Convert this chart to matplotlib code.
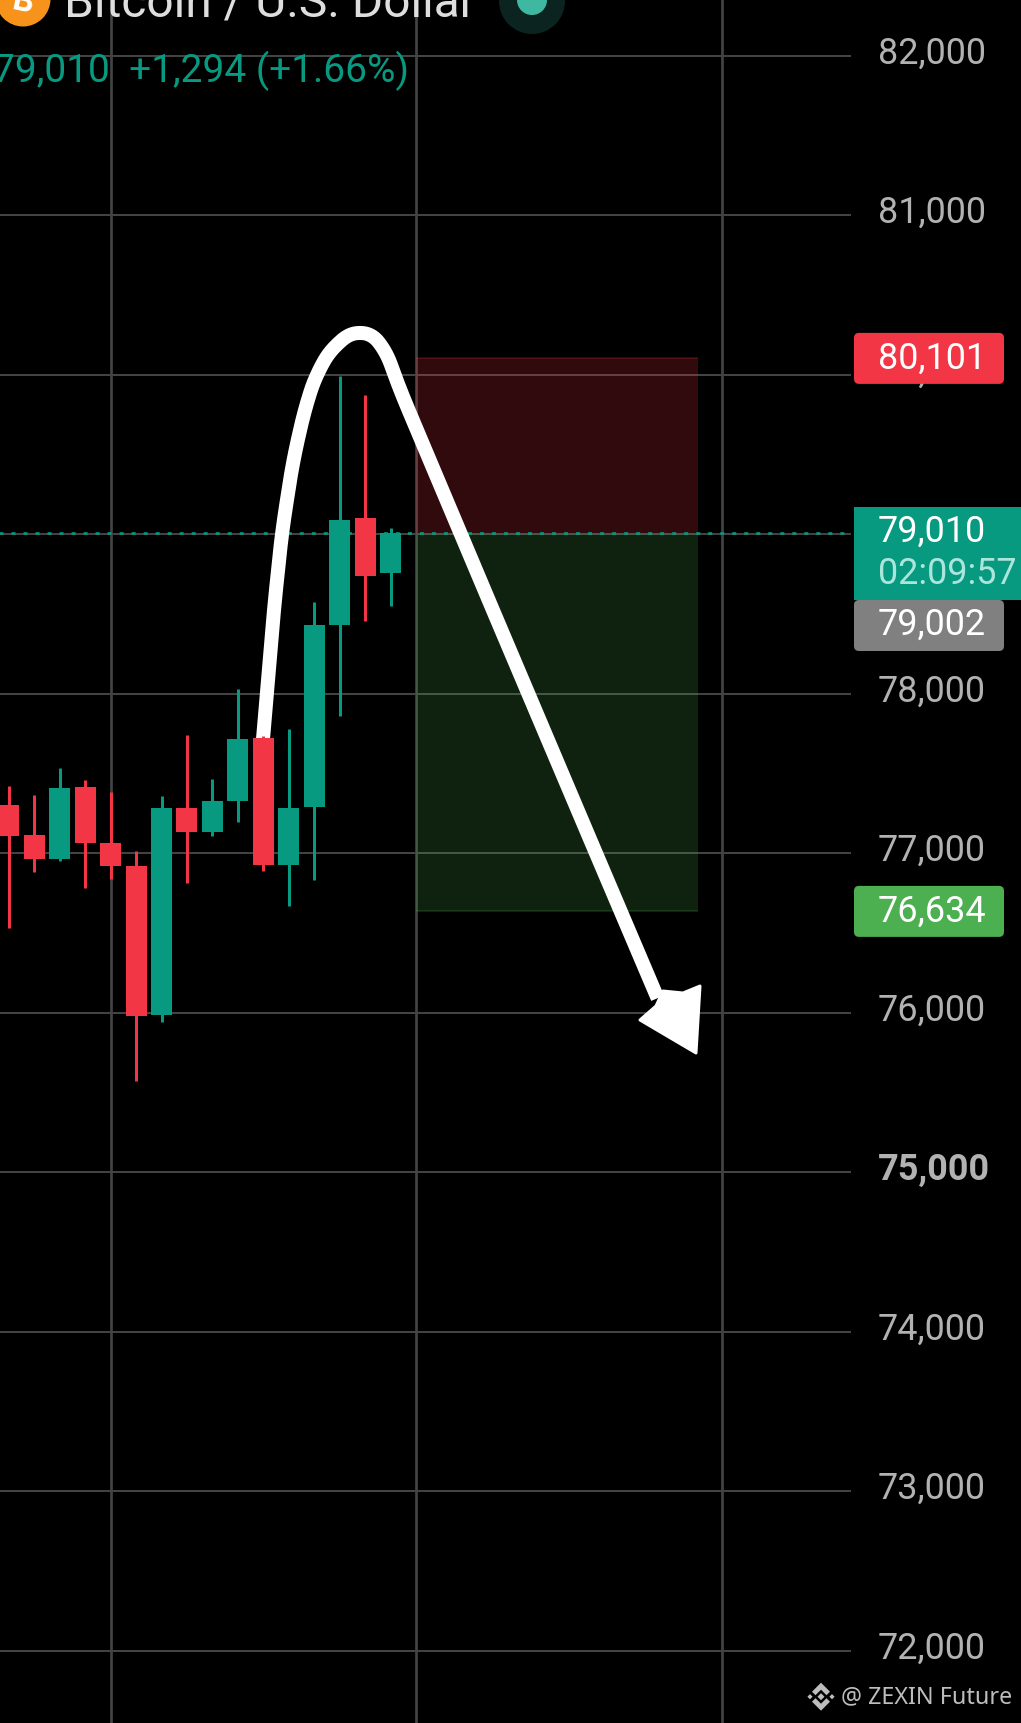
import numpy as np
import matplotlib
matplotlib.use("Agg")
import matplotlib.pyplot as plt
from matplotlib.patches import Rectangle, FancyBboxPatch, Circle, Polygon
from matplotlib.transforms import Affine2D

W, H = 1021, 1724
UP, DOWN = "#089981", "#F23645"

# ---- data (price) ----
candle_high  = [77423,77367,77534,77461,77386,77016,77360,77743,77467,78029,77732,77781,78577,79994,79875,79041]
candle_low   = [76528,76880,76949,76779,76838,75569,75939,76811,77105,77193,76886,76666,76834,77862,78458,78547]
candle_top   = [77304,77116,77411,77417,77066,76922,77285,77285,77329,77718,77724,77285,78433,79091,79102,79010]
candle_bot   = [77105,76961,76961,77061,76917,75977,75983,77131,77131,77325,76928,76928,77287,78428,78735,78754]
candle_dir   = ["d","d","u","d","d","d","u","d","u","u","d","u","u","u","d","u"]
price_ticks  = [82000,81000,80000,79000,78000,77000,76000,75000,74000,73000,72000]
vgrid_bars   = [4,16,28]
stop_price, entry_price, target_price = 80101, 79010, 76634
last_price, mark_price = 79010, 79002
pos_start, pos_end = 16, 27.05

fig = plt.figure(figsize=(W/100, H/100), dpi=100, facecolor="black")
ax = fig.add_axes([0,0,1,1], facecolor="black")
ax.set_xlim((0-8.7)/25.47, (W-8.7)/25.47)
Y0 = 56.6
ax.set_ylim(82000-(H-Y0)*6.2696, 82000+Y0*6.2696)
ax.axis("off")
px = Affine2D().scale(1,-1).translate(0,H)   # screen pixels, origin at top-left

def x_of(p): return (p-8.7)/25.47
GRID = "#434343"
PT = 0.72
FONT = "Roboto"

# grid
ax.hlines(price_ticks, x_of(-5), x_of(851), color=GRID, lw=2*PT, zorder=1)
ax.vlines(vgrid_bars, *ax.get_ylim(), color=GRID, lw=2.7*PT, zorder=1)
ax.hlines([entry_price], x_of(-5), x_of(851), color=UP, lw=2.6*PT, linestyles=(0,(1.54,3.08)), zorder=2)

# position box
ax.add_patch(Rectangle((pos_start, entry_price), pos_end-pos_start, stop_price-entry_price,
                       fc="#F23645", alpha=0.2, ec="none", zorder=1.5))
ax.add_patch(Rectangle((pos_start, target_price), pos_end-pos_start, entry_price-target_price,
                       fc="#4CAF50", alpha=0.2, ec="none", zorder=1.5))
ax.hlines([stop_price], pos_start, pos_end, color=DOWN, alpha=0.25, lw=1.5*PT, zorder=1.6)
ax.hlines([target_price], pos_start, pos_end, color="#4CAF50", alpha=0.25, lw=1.5*PT, zorder=1.6)

# candles
idx = np.arange(len(candle_high))
cols = [UP if d == "u" else DOWN for d in candle_dir]
ax.vlines(idx, candle_low, candle_high, colors=cols, lw=3*PT, zorder=3)

# arrow (hand-drawn annotation, screen pixels): polyline resampled and smoothed
pts = np.array([(263,740),(274,610),(282,533),(293,462),(306,405),(319,368),(337,342),
                (362,327),(383,343),(398,386),(470,557),(564,779),(658,1000)],float)
seg = np.r_[0,np.cumsum(np.hypot(*np.diff(pts,axis=0).T))]
s = np.arange(0,seg[-1],2.0)
cx_ = np.interp(s,seg,pts[:,0]); cy_ = np.interp(s,seg,pts[:,1])
win = 25
kern = np.ones(win)/win
def smooth(v):
    p = np.r_[2*v[0]-v[win:0:-1], v, 2*v[-1]-v[-2:-win-2:-1]]
    return np.convolve(p,kern,mode="same")[win:-win]
ax.plot(smooth(cx_),smooth(cy_),color="white",lw=14*PT,solid_capstyle="butt",solid_joinstyle="round",transform=px,zorder=2.5)
ax.add_patch(Polygon([(640,1021),(656,1007),(663,992),(683,994),(700,987),(696,1054)],closed=True,
                     fc="white",ec="white",lw=3*PT,joinstyle="round",transform=px,zorder=2.5))

ax.bar(idx, np.array(candle_top)-np.array(candle_bot), bottom=candle_bot, width=21/25.47, color=cols, zorder=3.5)

# axis labels
LBL = "#b2b2b2"
FS = 25.9
def price_y(v): return 56+(82000-v)*0.1595
for v in price_ticks:
    ax.text(878, price_y(v)-2.5, f"{v:,}", transform=px, color=LBL, fontsize=FS, family=FONT,
            fontweight="bold" if v==75000 else "normal", va="center", ha="left", zorder=4)

def tag(y0,y1,col,x1=1004):
    ax.add_patch(FancyBboxPatch((854,y0),x1-854,y1-y0,boxstyle="round,pad=0,rounding_size=5",fc=col,ec="none",transform=px,zorder=5))
tag(price_y(stop_price)-25, price_y(stop_price)+26, DOWN)
tag(601, 652, "#808080")
tag(price_y(target_price)-25, price_y(target_price)+26, "#4CAF50")
ax.add_patch(Rectangle((854,507.7),170,93.3,fc=UP,ec="none",transform=px,zorder=5.5))
def tagtext(y,t,c="white"):
    ax.text(878,y,t,transform=px,color=c,fontsize=FS,family=FONT,va="center",ha="left",zorder=6)
tagtext(358.5,f"{stop_price:,}")
tagtext(532,f"{last_price:,}")
tagtext(574.5,"02:09:57","#ace5dc")
tagtext(625,f"{mark_price:,}")
tagtext(911.5,f"{target_price:,}")

# header
ax.add_patch(Circle((23,0),27.5,fc="#F7931A",ec="none",transform=px,zorder=6))
ax.text(23,2,"B",transform=px,color="white",fontsize=24,fontweight="bold",family=FONT,ha="center",va="center",rotation=-12,zorder=7)
ax.text(64,17,"Bitcoin / U.S. Dollar",transform=px,color="#dedede",fontsize=34.5,family=FONT,va="baseline",ha="left",zorder=6)
ax.text(-7,82.5,"79,010  +1,294 (+1.66%)",transform=px,color=UP,fontsize=28,family=FONT,va="baseline",ha="left",zorder=6)
ax.add_patch(Circle((532,2),33,fc="#0b2420",ec="none",transform=px,zorder=6))
ax.add_patch(Circle((532,1),15,fc="#3fb8a2",ec="none",transform=px,zorder=7))

# watermark
ax.text(841,1697,"@ ZEXIN Future",transform=px,color="#bdbdbd",fontsize=16.8,family="Noto Sans",va="center",ha="left",zorder=6)
cx, cy = 821, 1697.7
for sgn in (1,-1):
    ax.add_patch(Polygon([(cx,cy-14*sgn),(cx+9,cy-5*sgn),(cx+5.5,cy-1.5*sgn),(cx,cy-7*sgn),(cx-5.5,cy-1.5*sgn),(cx-9,cy-5*sgn)],
                         fc="#bdbdbd",ec="none",transform=px,zorder=6))
for dx,r in [(0,3.5),(-11,2.6),(11,2.6)]:
    ax.add_patch(Polygon([(cx+dx-r,cy),(cx+dx,cy-r),(cx+dx+r,cy),(cx+dx,cy+r)],
                         fc="#bdbdbd",ec="none",transform=px,zorder=6))

fig.savefig("out.png",dpi=100,facecolor="black")
